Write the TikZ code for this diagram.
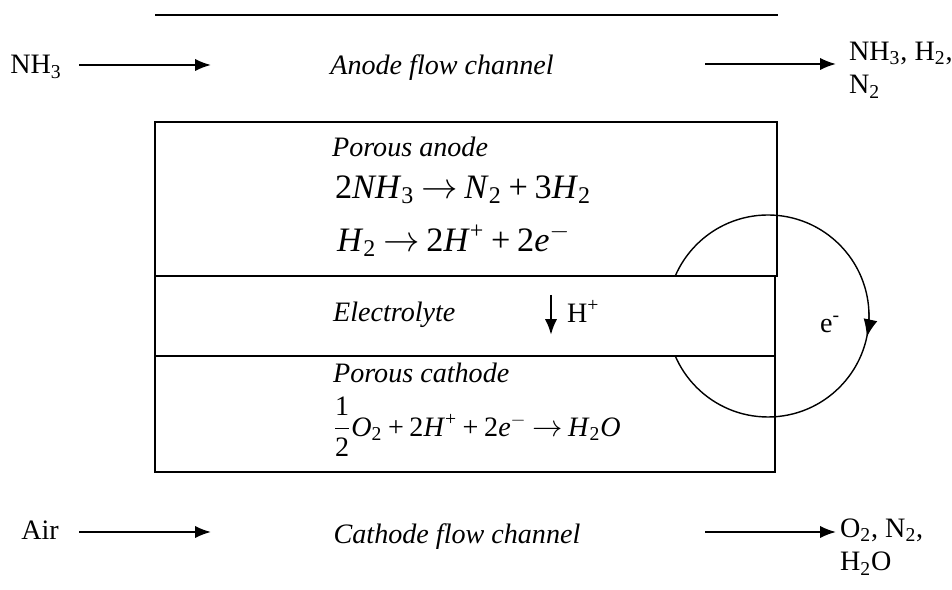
\documentclass[tikz,border=0pt]{standalone}
\usepackage{fontspec}
\setmainfont{Liberation Serif}
\usetikzlibrary{arrows.meta}
\newcommand\sbs[1]{\textsubscript{#1}}
\newcommand\sps[1]{\textsuperscript{#1}}
\newcommand\rsp{\hspace{.2em}}
\tikzset{
  lbl/.style={font=\fontsize{16}{19}\selectfont,inner sep=1pt},
  ilbl/.style={font=\fontsize{16}{19}\selectfont\itshape,inner sep=1pt},
  eqn/.style={font=\fontsize{19.5}{23}\selectfont,inner sep=1pt,anchor=west},
  layer/.style={draw,line width=1.3pt},
  flow/.style={->,line width=1.1pt}
}
\begin{document}
\begin{tikzpicture}[>={Latex[length=9pt,width=7pt]},x=0.02cm,y=0.02cm]
 \useasboundingbox (0,0) rectangle (952,590);
 \coordinate (tl) at (155,575); \coordinate (tr) at (778,575);
 \draw[line width=1.3pt] (tl)--(tr);
 \coordinate (ecirc) at (768,274);
 \draw[line width=0.8pt] (ecirc) circle (101);
 \draw[layer] (155,314) rectangle (777,468);
 \draw[layer,fill=white] (155,234) rectangle (775,314);
 \draw[layer] (155,118) rectangle (775,234);
 \draw[-{Latex[length=10pt,width=8pt]},line width=0.8pt] (ecirc) ++(2:101) arc (2:-12:101);
 \node[lbl] (em) at (830,266) {e\sps{-}};
 \node[lbl] (nhin) at (36,523) {NH\sbs{3}};
 \coordinate (nha) at (79,525); \coordinate (nhb) at (211,525);
 \draw[flow] (nha)--(nhb);
 \node[ilbl] (anch) at (442,522) {Anode flow channel};
 \coordinate (ana) at (705,526); \coordinate (anb) at (836,526);
 \draw[flow] (ana)--(anb);
 \node[lbl,anchor=west,align=left] (anprod) at (847,520) {NH\sbs{3}, H\sbs{2},\\N\sbs{2}};
 \node[ilbl,anchor=west] (pa) at (330,443) {Porous anode};
 \node[eqn] (eqa) at (333,400) {2\textit{NH}\sbs{3}\rsp$\rightarrow$\rsp\textit{N}\sbs{2}\rsp+\rsp3\textit{H}\sbs{2}};
 \node[eqn] (eqb) at (335,350) {\textit{H}\sbs{2}\rsp$\rightarrow$\rsp2\textit{H}\sps{+}\rsp+\rsp2\textit{e}\sps{$-$}};
 \node[ilbl,anchor=west] (el) at (331,275) {Electrolyte};
 \coordinate (hpa) at (551,295); \coordinate (hpb) at (551,255);
 \draw[flow,line width=1.4pt] (hpa)--(hpb);
 \node[lbl,anchor=west] (hp) at (565,279) {H\sps{+}};
 \node[ilbl,anchor=west] (pc) at (331,217) {Porous cathode};
 \node[eqn,font=\fontsize{16}{19}\selectfont] (eqc) at (331,163) {$\displaystyle\frac{\textup{1}}{\textup{2}}$\textit{O}\sbs{2}\rsp+\rsp2\textit{H}\sps{+}\rsp+\rsp2\textit{e}\sps{$-$}\rsp$\rightarrow$\rsp\textit{H}\sbs{2}\textit{O}};
 \node[lbl] (air) at (40,60) {Air};
 \coordinate (aira) at (79,58); \coordinate (airb) at (211,58);
 \draw[flow] (aira)--(airb);
 \node[ilbl] (cach) at (457,53) {Cathode flow channel};
 \coordinate (caa) at (705,58); \coordinate (cab) at (836,58);
 \draw[flow] (caa)--(cab);
 \node[lbl,anchor=west,align=left] (caprod) at (838,43) {O\sbs{2}, N\sbs{2},\\H\sbs{2}O};
\end{tikzpicture}
\end{document}
